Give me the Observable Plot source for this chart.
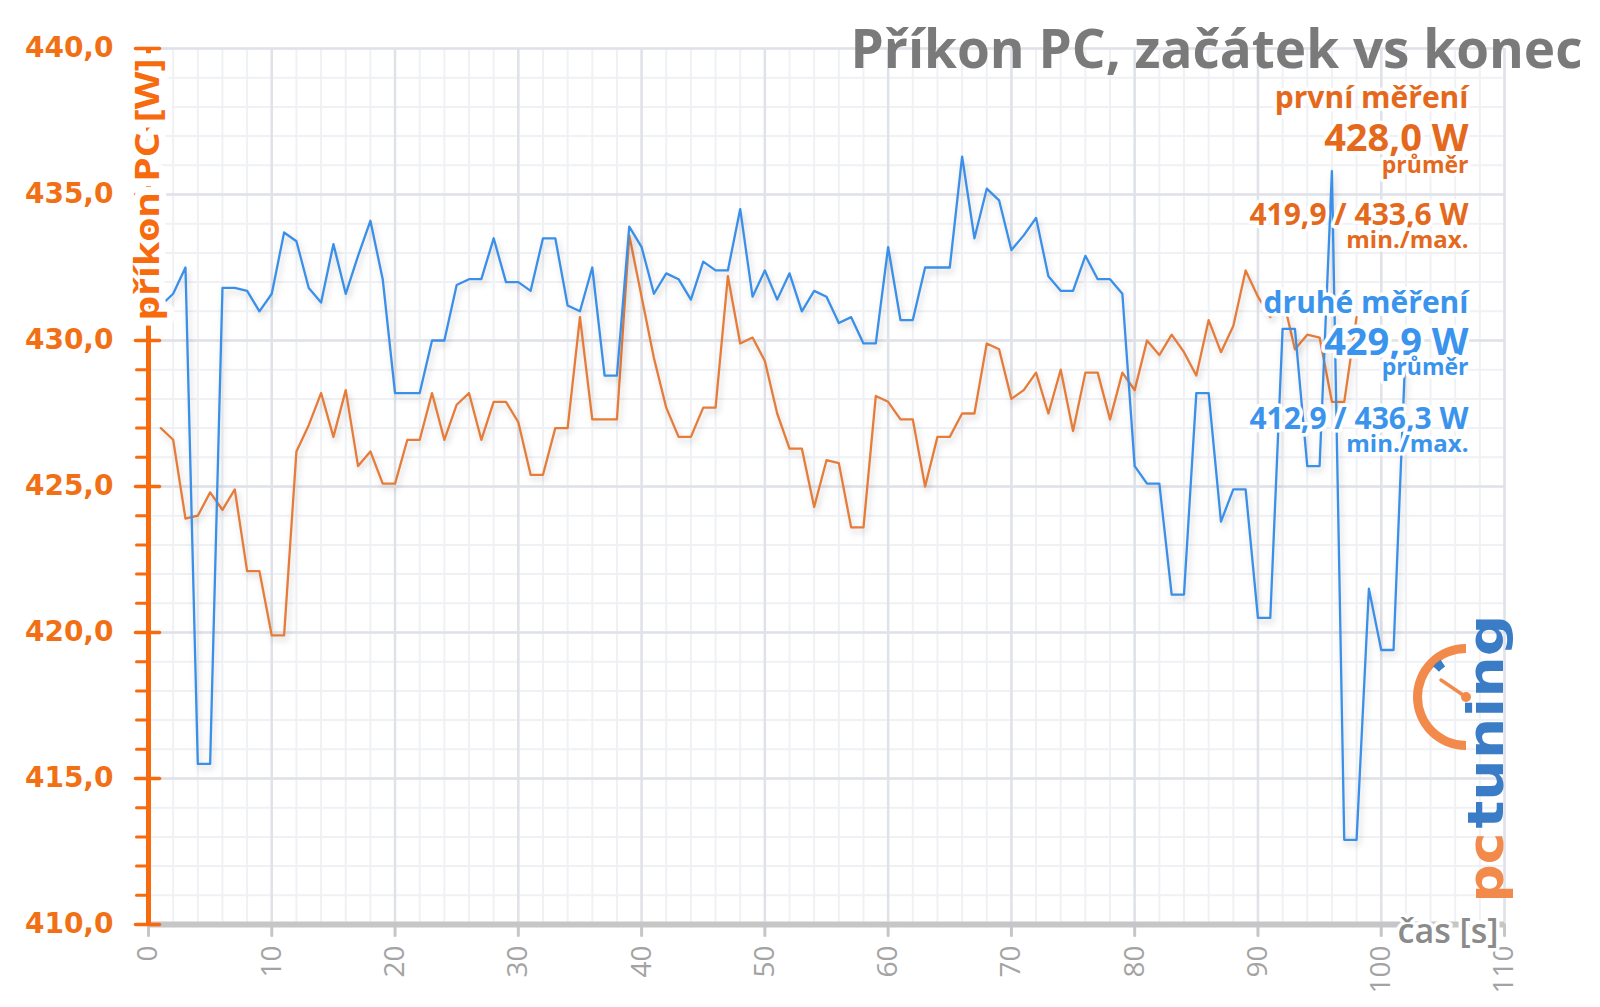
<!DOCTYPE html>
<html>
<head>
<meta charset="utf-8">
<script src="https://cdn.jsdelivr.net/npm/d3@7"></script>
<script src="https://cdn.jsdelivr.net/npm/@observablehq/plot@0.6"></script>
<style>
html, body { margin: 0; padding: 0; background: #ffffff; }
#chart { width: 1600px; height: 1007px; }
</style>
</head>
<body>
<div id="chart"></div>
<script>
// ---------- data ----------
const title = "Příkon PC, začátek vs konec";
const yLabel = "příkon PC [W]";
const xLabel = "čas [s]";
const xTicks = [0, 10, 20, 30, 40, 50, 60, 70, 80, 90, 100, 110];
const yTicks = [410, 415, 420, 425, 430, 435, 440];

const seriesNames = ["první měření", "druhé měření"];
const avgLabels = ["428,0 W", "429,9 W"];
const minMaxLabels = ["419,9 / 433,6 W", "412,9 / 436,3 W"];
const avgWord = "průměr";
const minMaxWord = "min./max.";

// první měření (W), one sample per second starting at t = 1 s
const prvni = [
  427.0, 426.6, 423.9, 424.0, 424.8, 424.2, 424.9, 422.1, 422.1, 419.9,
  419.9, 426.2, 427.1, 428.2, 426.7, 428.3, 425.7, 426.2, 425.1, 425.1,
  426.6, 426.6, 428.2, 426.6, 427.8, 428.2, 426.6, 427.9, 427.9, 427.2,
  425.4, 425.4, 427.0, 427.0, 430.8, 427.3, 427.3, 427.3, 433.6, 431.5,
  429.4, 427.7, 426.7, 426.7, 427.7, 427.7, 432.2, 429.9, 430.1, 429.3,
  427.5, 426.3, 426.3, 424.3, 425.9, 425.8, 423.6, 423.6, 428.1, 427.9,
  427.3, 427.3, 425.0, 426.7, 426.7, 427.5, 427.5, 429.9, 429.7, 428.0,
  428.3, 428.9, 427.5, 429.0, 426.9, 428.9, 428.9, 427.3, 428.9, 428.3,
  430.0, 429.5, 430.2, 429.6, 428.8, 430.7, 429.6, 430.5, 432.4, 431.5,
  430.8, 431.5, 429.7, 430.2, 430.1, 427.9, 427.9, 430.8
];

// druhé měření (W), one sample per second starting at t = 1 s
const druhe = [
  431.2, 431.6, 432.5, 415.5, 415.5, 431.8, 431.8, 431.7, 431.0, 431.6,
  433.7, 433.4, 431.8, 431.3, 433.3, 431.6, 432.9, 434.1, 432.1, 428.2,
  428.2, 428.2, 430.0, 430.0, 431.9, 432.1, 432.1, 433.5, 432.0, 432.0,
  431.7, 433.5, 433.5, 431.2, 431.0, 432.5, 428.8, 428.8, 433.9, 433.2,
  431.6, 432.3, 432.1, 431.4, 432.7, 432.4, 432.4, 434.5, 431.5, 432.4,
  431.4, 432.3, 431.0, 431.7, 431.5, 430.6, 430.8, 429.9, 429.9, 433.2,
  430.7, 430.7, 432.5, 432.5, 432.5, 436.3, 433.5, 435.2, 434.8, 433.1,
  433.6, 434.2, 432.2, 431.7, 431.7, 432.9, 432.1, 432.1, 431.6, 425.7,
  425.1, 425.1, 421.3, 421.3, 428.2, 428.2, 423.8, 424.9, 424.9, 420.5,
  420.5, 430.4, 430.4, 425.7, 425.7, 435.8, 412.9, 412.9, 421.5, 419.4,
  419.4, 430.0
];

// ---------- styling ----------
const ORANGE_AX = "#f86a0e";
const ORANGE_TXT = "#e4691c";
const ORANGE_LINE = "#e67c3a";
const BLUE_LINE = "#3a8fe8";
const BLUE_TXT = "#3a93ec";
const TITLE_GRAY = "#7a7a7a";
const GRID_MAJOR = "#dfe2e8";
const GRID_MINOR = "#eff1f4";
const OS = "Open Sans";

const d1 = prvni.map((v, i) => ({t: i + 1, v}));
const d2 = druhe.map((v, i) => ({t: i + 1, v}));
const xMinor = d3.range(0, 111, 2);
const yMinor = d3.range(410, 441, 1);

const line = {draw(ctx, l) { ctx.moveTo(0, 0); ctx.lineTo(0, -l); }};
const halo = {stroke: "white", strokeWidth: 7, strokeLinejoin: "round"};

const annot = (txt, dy, size, fill) =>
  Plot.text([txt], {text: d => d, frameAnchor: "top-right", dx: -36, dy, textAnchor: "end",
    lineAnchor: "bottom", fontSize: size, fontWeight: "bold", fontFamily: OS, fill, ...halo});

const plot = Plot.plot({
  width: 1600,
  height: 1007,
  marginLeft: 148,
  marginRight: 96,
  marginTop: 48,
  marginBottom: 83,
  x: {domain: [0, 110], axis: null},
  y: {domain: [410, 440], axis: null},
  style: {background: "#ffffff", overflow: "visible"},
  marks: [
    // grid
    Plot.ruleX(xMinor, {stroke: GRID_MINOR, strokeWidth: 2}),
    Plot.ruleY(yMinor, {stroke: GRID_MINOR, strokeWidth: 2}),
    Plot.ruleX(xTicks, {stroke: GRID_MAJOR, strokeWidth: 2.5}),
    Plot.ruleY(yTicks, {stroke: GRID_MAJOR, strokeWidth: 2.5}),
    // series
    Plot.line(d1, {x: "t", y: "v", stroke: ORANGE_LINE, strokeWidth: 2.3}),
    Plot.line(d2, {x: "t", y: "v", stroke: BLUE_LINE, strokeWidth: 2.3}),
    // x axis
    Plot.ruleY([410], {x1: 0, x2: 110, stroke: "#c6c6c6", strokeWidth: 6}),
    Plot.vector(xTicks, {x: d => d, y: 410, length: 11, rotate: 180, anchor: "start", shape: line,
      stroke: "#c6c6c6", strokeWidth: 3}),
    Plot.text(xTicks, {x: d => d, y: 410, text: d => String(d), rotate: -90, textAnchor: "end",
      lineAnchor: "middle", dy: 21, fontSize: 28, fontFamily: OS, fill: "#a3a3a3"}),
    // y axis
    Plot.ruleX([0], {y1: 410, y2: 440, stroke: ORANGE_AX, strokeWidth: 5}),
    Plot.vector(yMinor, {x: 0, y: d => d, length: 12, rotate: 90, anchor: "end", shape: line,
      stroke: ORANGE_AX, strokeWidth: 3}),
    Plot.vector(yTicks, {x: 0, y: d => d, length: 24, rotate: 90, anchor: "middle", dx: -1, shape: line,
      stroke: ORANGE_AX, strokeWidth: 3.5}),
    Plot.text(yTicks, {x: 0, y: d => d, text: d => d.toFixed(1).replace(".", ","), textAnchor: "end",
      lineAnchor: "middle", dx: -35, fontSize: 28, fontWeight: "bold", fontFamily: "DejaVu Sans", fill: "#f27015"}),
    Plot.text([yLabel], {text: d => d, frameAnchor: "top-left", rotate: -90, textAnchor: "end",
      lineAnchor: "bottom", dx: 10, dy: 10, fontSize: 34, fontWeight: "bold", fontFamily: OS,
      fill: ORANGE_AX, stroke: "white", strokeWidth: 14, strokeLinejoin: "round"}),
    Plot.text([xLabel], {text: d => d, frameAnchor: "bottom-right", textAnchor: "end",
      lineAnchor: "bottom", dx: -6, dy: 18, fontSize: 34, fontWeight: 600, fontFamily: OS,
      fill: "#8b8b8b", ...halo}),
    // title
    Plot.text([title], {text: d => d, frameAnchor: "top-right", textAnchor: "end", lineAnchor: "bottom",
      dx: 78, dy: 19, fontSize: 54, fontWeight: "bold", fontFamily: OS, fill: TITLE_GRAY}),
    // annotations
    annot(seriesNames[0], 59, 30, ORANGE_TXT),
    annot(avgLabels[0], 102, 38, ORANGE_TXT),
    annot(avgWord, 124, 23, ORANGE_TXT),
    annot(minMaxLabels[0], 176, 30, ORANGE_TXT),
    annot(minMaxWord, 199, 24, ORANGE_TXT),
    annot(seriesNames[1], 264, 30, BLUE_TXT),
    annot(avgLabels[1], 306, 38, BLUE_TXT),
    annot(avgWord, 326, 23, BLUE_TXT),
    annot(minMaxLabels[1], 380, 30, BLUE_TXT),
    annot(minMaxWord, 403, 24, BLUE_TXT),
    // logo text
    Plot.text(["tuning"], {text: d => d, frameAnchor: "bottom-right", rotate: -90, textAnchor: "start",
      lineAnchor: "bottom", dx: -2, dy: -96, fontSize: 50, fontWeight: "bold", fontFamily: "DejaVu Sans",
      fill: "#3b7cc6"}),
    Plot.text(["pc"], {text: d => d, frameAnchor: "bottom-right", rotate: -90, textAnchor: "start",
      lineAnchor: "bottom", dx: -2, dy: -22, fontSize: 50, fontWeight: "bold", fontFamily: "DejaVu Sans",
      fill: "#f28a4c"})
  ]
});

// soft shadow under the series lines
plot.querySelectorAll('g[aria-label="line"]').forEach(g => {
  g.style.filter = "drop-shadow(2px 4px 3px rgba(0,0,0,0.18))";
});

// fit a few texts to the reference widths
const fit = {
  [title]: 732, [yLabel]: 262, [xLabel]: 101, "tuning": 214, "pc": 70
};
plot.querySelectorAll("text").forEach(t => {
  const w = fit[t.textContent];
  if (w) { t.setAttribute("textLength", w); t.setAttribute("lengthAdjust", "spacingAndGlyphs"); }
});

// gauge of the logo
const svg = d3.select(plot);
const g = svg.append("g").attr("transform", "translate(1466,697)");
g.append("path")
  .attr("d", d3.arc()({innerRadius: 44, outerRadius: 53, startAngle: Math.PI, endAngle: 2 * Math.PI}))
  .attr("fill", "#f28a4c");
g.append("path")
  .attr("d", d3.arc()({innerRadius: 37, outerRadius: 45, startAngle: 2 * Math.PI - 0.82, endAngle: 2 * Math.PI - 0.6}))
  .attr("fill", "#3b7cc6");
g.append("line").attr("x1", 0).attr("y1", 0).attr("x2", -25).attr("y2", -17)
  .attr("stroke", "#f28a4c").attr("stroke-width", 3.5).attr("stroke-linecap", "round");
g.append("circle").attr("r", 5).attr("fill", "#f28a4c");

document.getElementById("chart").appendChild(plot);
</script>
</body>
</html>
